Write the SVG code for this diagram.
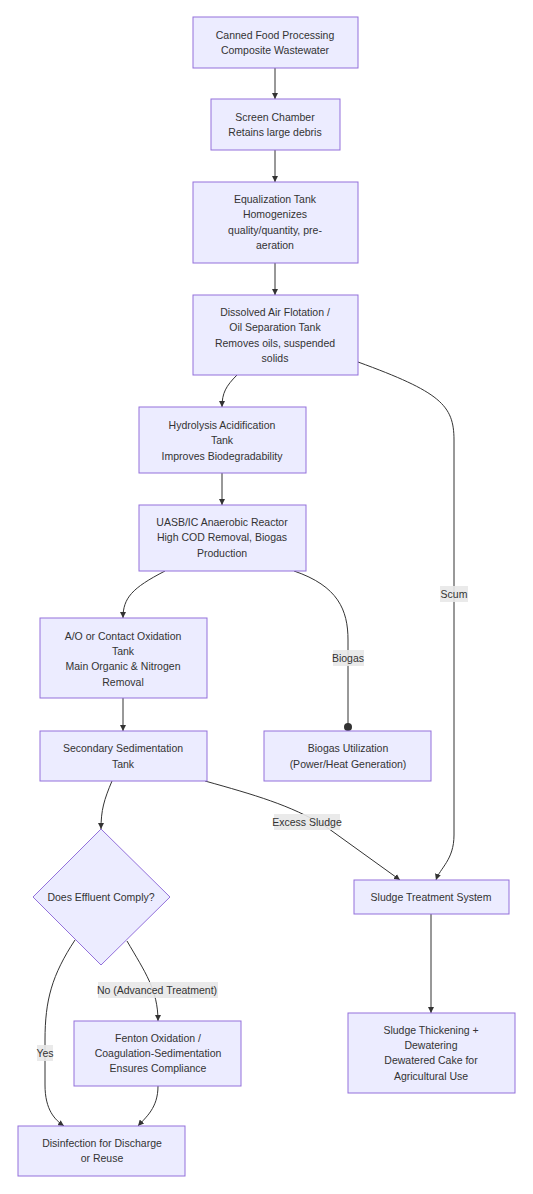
<svg xmlns="http://www.w3.org/2000/svg" width="533" height="1194" viewBox="0 0 533 1194">
<style>
.n{fill:#ECECFF;stroke:#9370DB;stroke-width:1}
.t{font-family:"Liberation Sans",Arial,sans-serif;font-size:10.5px;fill:#333;text-anchor:middle}
.e{fill:none;stroke:#333;stroke-width:1}
.lb{fill:#e8e8e8;opacity:0.9}
</style>
<defs>
<marker id="ar" viewBox="0 0 10 10" refX="10" refY="5" markerWidth="6" markerHeight="6" orient="auto" markerUnits="userSpaceOnUse"><path d="M0,0 L10,5 L0,10 z" fill="#333"/></marker>
<marker id="ci" viewBox="0 0 10 10" refX="5" refY="5" markerWidth="8" markerHeight="8" orient="auto" markerUnits="userSpaceOnUse"><circle cx="5" cy="5" r="5" fill="#333"/></marker>
</defs>
<g id="edges">
<path class="e" d="M275,68 L275,99" marker-end="url(#ar)"/>
<path class="e" d="M275,150 L275,182" marker-end="url(#ar)"/>
<path class="e" d="M275,263 L275,295" marker-end="url(#ar)"/>
<path class="e" d="M237,375 C226,386 222,393 222,407" marker-end="url(#ar)"/>
<path class="e" d="M222,473 L222,505" marker-end="url(#ar)"/>
<path class="e" d="M358,362 C440,392 454,405 454,440 L454,835 C454,860 440,868 436,880" marker-end="url(#ar)"/>
<path class="e" d="M165,571 C132,588 123,598 123,618" marker-end="url(#ar)"/>
<path class="e" d="M294,571 C338,586 348,610 348,640 L348,727" stroke-width="1.3" marker-end="url(#ci)"/>
<path class="e" d="M123,698 L123,731" marker-end="url(#ar)"/>
<path class="e" d="M112,781 C104,800 101,810 101,829" marker-end="url(#ar)"/>
<path class="e" d="M205,781 C255,795 290,805 325,826 L400,880" marker-end="url(#ar)"/>
<path class="e" d="M127,941 C145,972 158,990 158,1021" marker-end="url(#ar)"/>
<path class="e" d="M75,940 C52,975 45,1000 45,1040 L45,1085 C45,1110 55,1120 64,1126" marker-end="url(#ar)"/>
<path class="e" d="M158,1086 C158,1108 146,1117 138,1126" marker-end="url(#ar)"/>
<path class="e" d="M431,914 L431,1013" marker-end="url(#ar)"/>
<rect class="lb" x="440" y="586" width="28" height="16"/>
<text class="t" x="454" y="598">Scum</text>
<rect class="lb" x="333" y="650" width="31" height="16"/>
<text class="t" x="348" y="662">Biogas</text>
<rect class="lb" x="274" y="814" width="66" height="16"/>
<text class="t" x="307" y="826">Excess Sludge</text>
<rect class="lb" x="98" y="982" width="120" height="16"/>
<text class="t" x="157" y="994">No (Advanced Treatment)</text>
<rect class="lb" x="37" y="1045" width="16" height="16"/>
<text class="t" x="45" y="1057">Yes</text>
</g>
<g id="n1"><rect class="n" x="193" y="17" width="165" height="51"/><text class="t" x="275" y="39">Canned Food Processing</text><text class="t" x="275" y="54">Composite Wastewater</text></g>
<g id="n2"><rect class="n" x="211" y="99" width="129" height="51"/><text class="t" x="275" y="121">Screen Chamber</text><text class="t" x="275" y="136">Retains large debris</text></g>
<g id="n3"><rect class="n" x="193" y="182" width="165" height="81"/><text class="t" x="275" y="203">Equalization Tank</text><text class="t" x="275" y="218">Homogenizes</text><text class="t" x="275" y="234">quality/quantity, pre-</text><text class="t" x="275" y="249">aeration</text></g>
<g id="n4"><rect class="n" x="193" y="295" width="165" height="80"/><text class="t" x="275" y="316">Dissolved Air Flotation /</text><text class="t" x="275" y="331">Oil Separation Tank</text><text class="t" x="275" y="347">Removes oils, suspended</text><text class="t" x="275" y="362">solids</text></g>
<g id="n5"><rect class="n" x="139" y="407" width="167" height="66"/><text class="t" x="222" y="429">Hydrolysis Acidification</text><text class="t" x="222" y="444">Tank</text><text class="t" x="222" y="460">Improves Biodegradability</text></g>
<g id="n6"><rect class="n" x="139" y="505" width="167" height="66"/><text class="t" x="222" y="526">UASB/IC Anaerobic Reactor</text><text class="t" x="222" y="541">High COD Removal, Biogas</text><text class="t" x="222" y="557">Production</text></g>
<g id="n7"><rect class="n" x="40" y="618" width="167" height="80"/><text class="t" x="123" y="640">A/O or Contact Oxidation</text><text class="t" x="123" y="655">Tank</text><text class="t" x="123" y="670">Main Organic &amp; Nitrogen</text><text class="t" x="123" y="686">Removal</text></g>
<g id="n8"><rect class="n" x="40" y="731" width="167" height="50"/><text class="t" x="123" y="752">Secondary Sedimentation</text><text class="t" x="123" y="768">Tank</text></g>
<g id="n9"><rect class="n" x="264" y="731" width="167" height="50"/><text class="t" x="348" y="752">Biogas Utilization</text><text class="t" x="348" y="768">(Power/Heat Generation)</text></g>
<g id="n10"><polygon class="n" points="101,829 170,897 101,965 33,897"/><text class="t" x="101" y="901">Does Effluent Comply?</text></g>
<g id="n11"><rect class="n" x="354" y="880" width="155" height="34"/><text class="t" x="431" y="901">Sludge Treatment System</text></g>
<g id="n12"><rect class="n" x="74" y="1021" width="167" height="65"/><text class="t" x="158" y="1042">Fenton Oxidation /</text><text class="t" x="158" y="1057">Coagulation-Sedimentation</text><text class="t" x="158" y="1072">Ensures Compliance</text></g>
<g id="n13"><rect class="n" x="348" y="1013" width="167" height="80"/><text class="t" x="431" y="1034">Sludge Thickening +</text><text class="t" x="431" y="1049">Dewatering</text><text class="t" x="431" y="1064">Dewatered Cake for</text><text class="t" x="431" y="1080">Agricultural Use</text></g>
<g id="n14"><rect class="n" x="18" y="1126" width="167" height="50"/><text class="t" x="102" y="1147">Disinfection for Discharge</text><text class="t" x="102" y="1162">or Reuse</text></g>
</svg>
